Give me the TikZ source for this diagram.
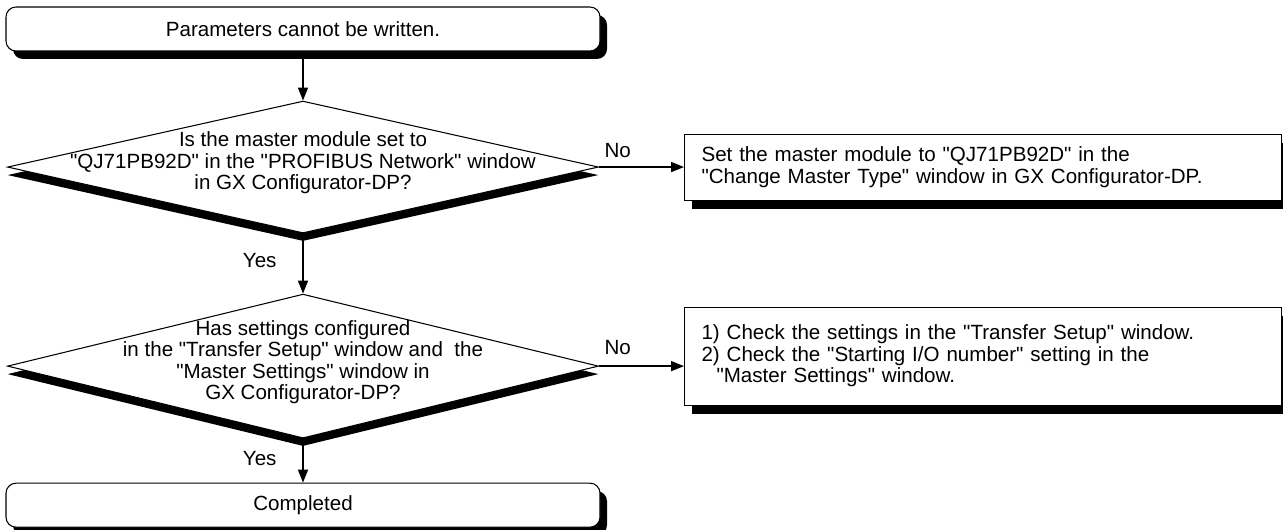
\documentclass[tikz,border=0pt]{standalone}
\usepackage{fontspec}
\setmainfont{Liberation Sans}[Ligatures=TeXOff]
\usetikzlibrary{shapes.geometric, arrows.meta, positioning, shadows}
\newcommand{\chartfont}{\fontsize{11.7}{12.2}\selectfont}
\tikzset{
    terminal/.style={rectangle, draw=black, rounded corners=0.2cm, line width=0.6pt, fill=white,
        minimum width=11.88cm, minimum height=0.88cm, align=center, font=\chartfont,
        drop shadow={shadow xshift=0.14cm, shadow yshift=-0.16cm, fill=black, opacity=1}},
    decision/.style={diamond, draw=black, line width=0.6pt, fill=white, inner sep=0pt,
        minimum width=11.82cm, minimum height=2.64cm,
        drop shadow={shadow xshift=0cm, shadow yshift=-0.16cm, fill=black, opacity=1}},
    decisiontext/.style={align=center, font=\chartfont, inner sep=0pt},
    action/.style={rectangle, draw=black, line width=0.6pt, fill=white,
        minimum width=11.94cm, minimum height=1.32cm, text width=11.26cm, inner xsep=0.34cm,
        align=left, font=\chartfont,
        drop shadow={shadow xshift=0.14cm, shadow yshift=-0.17cm, fill=black, opacity=1}},
    arrow/.style={-{Triangle[length=0.26cm, width=0.2cm]}, line width=0.9pt},
    lbl/.style={font=\chartfont, inner sep=1pt}
}
\begin{document}
\begin{tikzpicture}

    \useasboundingbox (0,0) rectangle (25.66,-10.6);

    \node[terminal] (start) at (6.06,-0.58) {Parameters cannot be written.};

    \node[decision, below=0.98cm of start] (master) {};
    \node[decisiontext, yshift=0.08cm] (mastertext) at (master) {Is the master module set to\\"QJ71PB92D" in the "PROFIBUS Network" window\\in GX Configurator-DP?};
    \node[action, right=1.7cm of master] (setmaster) {Set the master module to "QJ71PB92D" in the\\"Change Master Type" window in GX Configurator-DP.};

    \node[decision, minimum height=2.88cm, below=1.2cm of master] (transfer) {};
    \node[decisiontext, yshift=0.08cm] (transfertext) at (transfer) {Has settings configured\\in the "Transfer Setup" window and\ \ the\\"Master Settings" window in\\GX Configurator-DP?};
    \node[action, minimum height=1.96cm, right=1.7cm of transfer, yshift=0.2cm] (check) {1) Check the settings in the "Transfer Setup" window.\\2) Check the "Starting I/O number" setting in the\\\hspace*{0.3cm}"Master Settings" window.};

    \node[terminal, below=0.88cm of transfer] (done) {Completed};

    \draw[arrow] (start) -- (master);
    \draw[arrow] (master) -- node[lbl, pos=0.45, left=0.48cm] (yes1) {Yes} (transfer);
    \draw[arrow] (transfer) -- node[lbl, pos=0.45, left=0.48cm] (yes2) {Yes} (done);
    \draw[arrow] (master.east) -- node[lbl, pos=0, anchor=south west, xshift=0.06cm, yshift=0.14cm] (no1) {No} (master.east -| setmaster.west);
    \draw[arrow] (transfer.east) -- node[lbl, pos=0, anchor=south west, xshift=0.06cm, yshift=0.18cm] (no2) {No} (transfer.east -| check.west);

\end{tikzpicture}
\end{document}
